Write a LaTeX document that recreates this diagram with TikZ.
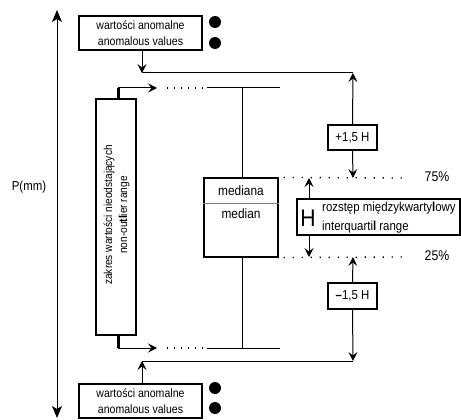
\documentclass[tikz,border=0pt]{standalone}
\usepackage{fontspec}
\setmainfont{Liberation Sans}[FakeStretch=0.88]
\usetikzlibrary{arrows.meta}

\begin{document}
\begin{tikzpicture}[
		x=1pt, y=-1pt,
		every node/.style={font=\fontsize{12}{16}\selectfont, inner sep=0},
		box/.style={draw, line width=1.1pt, align=center},
		arr/.style={-{Stealth[length=9pt, width=9pt, inset=3.5pt]}},
		line/.style={line width=1pt},
		dots/.style={line width=1.2pt, dash pattern=on 1.2pt off 5.8pt},
		qdots/.style={line width=1.4pt, dash pattern=on 1.4pt off 7.6pt},
		blob/.style={circle, fill, minimum size=12pt},
	]
	\useasboundingbox (0,0) rectangle (461,420);
	% axis
	\coordinate (axtop) at (57,10);
	\coordinate (axbot) at (57,418);
	\draw[line, {Stealth[length=12pt, width=10pt, inset=3pt]}-{Stealth[length=12pt, width=10pt, inset=3pt]}] (axtop) -- (axbot);
	\node[font=\fontsize{13}{15}\selectfont] (pmm) at (29,187) {P(mm)};
	% anomalous values
	\node[box, minimum width=123pt, minimum height=34pt] (top) at (140.5,33) {warto\'sci anomalne\\anomalous values};
	\node[blob] (dot1) at (215,22) {};
	\node[blob] (dot2) at (215,43) {};
	\node[box, minimum width=123pt, minimum height=34pt] (bot) at (140.5,401) {warto\'sci anomalne\\anomalous values};
	\node[blob] (dot3) at (215,388) {};
	\node[blob] (dot4) at (215,408) {};
	% range box
	\node[box, minimum width=40pt, minimum height=236pt] (range) at (116,217) {};
	\node[rotate=90, align=center, font=\fontsize{11.5}{15}\selectfont] (rangetxt) at (116.5,215) {zakres warto\'sci nieodstaj\k{a}cych\\non-ou\textbf{tl}ier range};
	% median box
	\node[box, minimum width=74pt, minimum height=79pt] (med) at (241,217.5) {};
	\draw[line, gray] (med.west |- 0,203) -- (med.east |- 0,203);
	\node[font=\fontsize{13.5}{16}\selectfont] (mediana) at (241,191) {mediana};
	\node[font=\fontsize{13.5}{16}\selectfont] (median) at (241,214) {median};
	% whiskers
	\coordinate (wt) at (118,88);
	\coordinate (wb) at (118,348);
	\draw[line width=3pt] (range.north -| wt) -- (wt);
	\draw[line width=3pt] (range.south -| wb) -- (wb);
	\draw[line, arr] (wt) -- (157,88);
	\draw[line, arr] (wb) -- (157,348);
	\draw[dots] (167,88) -- (204,88);
	\draw[dots] (167,348) -- (204,348);
	\draw[line] (207,88) -- (280,88);
	\draw[line] (207,348) -- (280,348);
	\draw[line] (242,88) -- (med.north -| 242,0);
	\draw[line] (med.south -| 242,0) -- (242,348);
	% quartiles
	\draw[qdots] ([xshift=5pt]med.north east) -- (402,178);
	\draw[qdots] ([xshift=5pt]med.south east) -- (402,257);
	\node[font=\fontsize{14}{16}\selectfont] (q75) at (437,177) {75\%};
	\node[font=\fontsize{14}{16}\selectfont] (q25) at (437,256) {25\%};
	% H
	\node[box, minimum width=163pt, minimum height=36pt] (hbox) at (378.5,217) {};
	\node[font=\fontsize{24}{26}\selectfont] (hh) at (308,218) {H};
	\node[align=left, anchor=west, font=\fontsize{13}{19}\selectfont] (htxt) at (322,218) {rozst\k{e}p mi\k{e}dzykwarty\textbf{l}owy\\interquarti\textbf{l} range};
	\draw[line, arr] (hbox.north -| 309,0) -- (309,178);
	\draw[line, arr] (hbox.south -| 309,0) -- (309,257);
	% limits
	\node[box, minimum width=49pt, minimum height=25pt, font=\fontsize{13}{15}\selectfont] (plus) at (352.5,137.5) {+1,5 H};
	\node[box, minimum width=49pt, minimum height=26pt, font=\fontsize{13}{15}\selectfont] (minus) at (352.5,296) {\textbf{--}1,5 H};
	\coordinate (ltop) at (353,73);
	\coordinate (lbot) at (353,361);
	\draw[line] (142,73) -- (ltop);
	\draw[line] (142,361) -- (lbot);
	\draw[line, arr] (plus.north) -- (ltop);
	\draw[line, arr] (plus.south) -- (353,178);
	\draw[line, arr] (minus.north) -- (353,257);
	\draw[line, arr] (minus.south) -- (lbot);
	\draw[line, arr] (top.south -| 142,0) -- (142,73);
	\draw[line, arr] (bot.north -| 142,0) -- (142,361);
\end{tikzpicture}
\end{document}
